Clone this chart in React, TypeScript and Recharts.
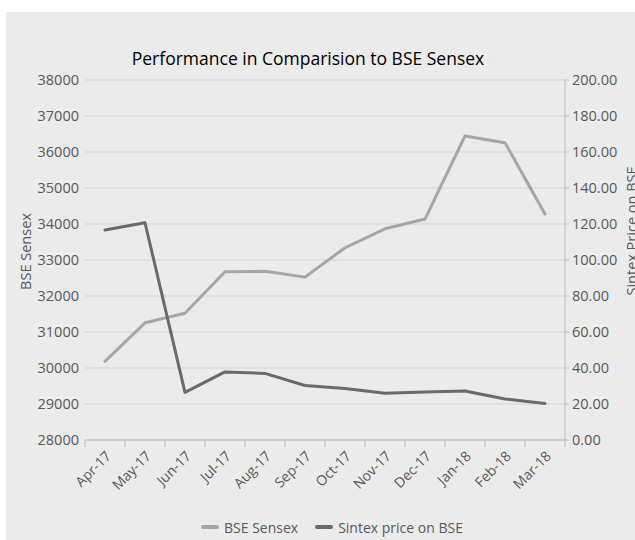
import React from "react";
import { LineChart, Line, XAxis, YAxis, CartesianGrid, Legend } from "recharts";

const months = ["Apr-17", "May-17", "Jun-17", "Jul-17", "Aug-17", "Sep-17", "Oct-17", "Nov-17", "Dec-17", "Jan-18", "Feb-18", "Mar-18"];
const bseSensex = [30185, 31255, 31523, 32673, 32686, 32524, 33340, 33866, 34138, 36444, 36256, 34278];
const sintexPrice = [116.7, 120.7, 26.5, 37.8, 37.0, 30.3, 28.6, 26.0, 26.6, 27.2, 22.8, 20.3];
const leftTicks = [28000, 29000, 30000, 31000, 32000, 33000, 34000, 35000, 36000, 37000, 38000];
const rightTicks = [0, 20, 40, 60, 80, 100, 120, 140, 160, 180, 200];

const title = "Performance in Comparision to BSE Sensex";
const leftLabel = "BSE Sensex";
const rightLabel = "Sintex Price on BSE";
const seriesNames = ["BSE Sensex", "Sintex price on BSE"];

const data = months.map((m, i) => ({ month: m, sensex: bseSensex[i], sintex: sintexPrice[i] }));

const FONT = "'Open Sans', sans-serif";
const TEXT = "#595959";
const BG = "#ebebeb";
const GRID = "#d3d3d3";
const AXIS = "#bfbfbf";
const C1 = "#a6a6a6";
const C2 = "#6a6a6a";

const XTick = (props: any) => {
  const { x, y, payload, index } = props;
  const off = payload.offset ?? 0;
  const isLast = index === months.length - 1;
  const tx = x + 7;
  const ty = y + 8;
  return (
    <g>
      <line x1={x - off} x2={x - off} y1={y - 9} y2={y - 2} stroke={AXIS} />
      {isLast && <line x1={x + off} x2={x + off} y1={y - 9} y2={y - 2} stroke={AXIS} />}
      <text
        x={tx}
        y={ty}
        textAnchor="end"
        transform={`rotate(-45, ${tx}, ${ty})`}
        fill={TEXT}
        fontSize={14}
        fontFamily={FONT}
      >
        {payload.value}
      </text>
    </g>
  );
};

const LegendContent = () => (
  <div
    style={{
      display: "flex",
      justifyContent: "center",
      alignItems: "center",
      height: 26,
      paddingLeft: 23,
      fontFamily: FONT,
      fontSize: 14,
      color: TEXT,
    }}
  >
    {seriesNames.map((n, i) => (
      <div key={n} style={{ display: "flex", alignItems: "center", marginRight: i === 0 ? 17 : 0 }}>
        <div style={{ width: 18, height: 4.5, borderRadius: 3, background: i === 0 ? C1 : C2, marginRight: 5 }} />
        <span>{n}</span>
      </div>
    ))}
  </div>
);

export default function App() {
  return (
    <div style={{ position: "absolute", left: 0, top: 0, width: 635, height: 540, background: "#fff" }}>
      <div style={{ position: "absolute", left: 6, top: 12, width: 629, height: 528, background: BG }}>
        <svg width={629} height={70} style={{ position: "absolute", left: 0, top: 0 }}>
          <text x={302} y={53} textAnchor="middle" fontFamily={FONT} fontSize={17.5} fill="#000">
            {title}
          </text>
        </svg>
        <div style={{ position: "absolute", left: 0, top: 0 }}>
          <LineChart width={629} height={528} data={data} margin={{ top: 68, right: 0, bottom: 0, left: 0 }}>
            <CartesianGrid yAxisId="left" vertical={false} stroke={GRID} strokeWidth={1} />
            <XAxis
              dataKey="month"
              xAxisId={0}
              scale="band"
              height={74}
              interval={0}
              tickLine={false}
              tickSize={7}
              tickMargin={2}
              axisLine={{ stroke: AXIS }}
              tick={<XTick />}
            />
            <YAxis
              yAxisId="left"
              orientation="left"
              width={79}
              domain={[28000, 38000]}
              ticks={leftTicks}
              interval={0}
              axisLine={false}
              tickLine={false}
              tickSize={4}
              tickMargin={2}
              tick={{ fill: TEXT, fontSize: 14.5, fontFamily: FONT }}
              label={{
                content: (p: any) => {
                  const vb = p.viewBox;
                  const lx = vb.x + 25;
                  const ly = vb.y + vb.height / 2 - 8.5;
                  return (
                    <text x={lx} y={ly} textAnchor="middle" transform={`rotate(-90, ${lx}, ${ly})`} fill={TEXT} fontSize={14.5} fontFamily={FONT}>
                      {leftLabel}
                    </text>
                  );
                },
              }}
            />
            <YAxis
              yAxisId="right"
              orientation="right"
              width={70}
              domain={[0, 200]}
              ticks={rightTicks}
              interval={0}
              axisLine={{ stroke: AXIS }}
              tickLine={{ stroke: AXIS }}
              tickSize={4}
              tickMargin={3}
              tickFormatter={(v: number) => v.toFixed(2)}
              tick={{ fill: TEXT, fontSize: 14.5, fontFamily: FONT }}
              label={{
                content: (p: any) => {
                  const vb = p.viewBox;
                  const lx = vb.x + 72;
                  const ly = vb.y + vb.height / 2 - 29;
                  return (
                    <text x={lx} y={ly} textAnchor="middle" transform={`rotate(-90, ${lx}, ${ly})`} fill={TEXT} fontSize={14.5} fontFamily={FONT}>
                      {rightLabel}
                    </text>
                  );
                },
              }}
            />
            <Legend verticalAlign="bottom" align="center" content={<LegendContent />} />
            <Line
              yAxisId="left"
              type="linear"
              dataKey="sensex"
              name={seriesNames[0]}
              stroke={C1}
              strokeWidth={3}
              dot={false}
              activeDot={false}
              strokeLinejoin="round"
              strokeLinecap="round"
              isAnimationActive={false}
            />
            <Line
              yAxisId="right"
              type="linear"
              dataKey="sintex"
              name={seriesNames[1]}
              stroke={C2}
              strokeWidth={3}
              dot={false}
              activeDot={false}
              strokeLinejoin="round"
              strokeLinecap="round"
              isAnimationActive={false}
            />
          </LineChart>
        </div>
      </div>
    </div>
  );
}
